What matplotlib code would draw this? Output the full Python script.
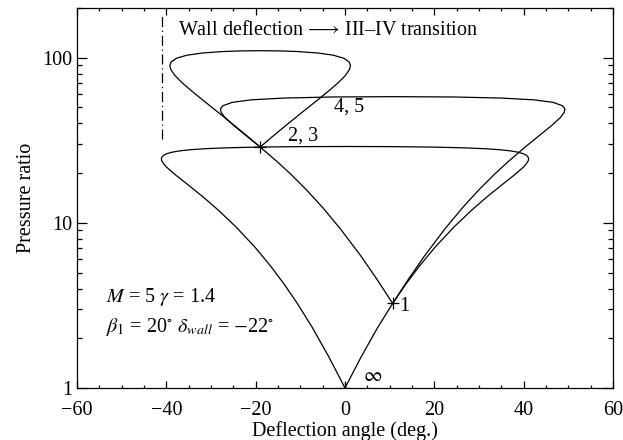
import matplotlib
matplotlib.use('Agg')
import matplotlib.pyplot as plt
import matplotlib.ticker as tkr

plt.rcParams['font.family'] = 'Liberation Serif'
plt.rcParams['mathtext.fontset'] = 'stix'
plt.rcParams['font.size'] = 14.5
plt.rcParams['axes.linewidth'] = 0.9

#-------|incident polar, M = 5 (from state 0)|-------
polarA_x = [0, 3.6, 7.34, 10.67, 13.72, 16.58, 20.17, 24.38, 28.28, 31.86, 35.08, 37.83, 39.92, 40.5,
            41.04, 41.1, 41.04, 40.68, 39.93, 38.73, 36.97, 34.54, 31.25, 27.0, 21.68, 18.6, 11.67, 7.9, 0,
            -7.9, -11.67, -18.6, -21.68, -27.0, -31.25, -34.54, -36.97, -38.73, -39.93, -40.68, -41.04,
            -41.1, -41.04, -40.5, -39.92, -37.83, -35.08, -31.86, -28.28, -24.38, -20.17, -16.58, -13.72,
            -10.67, -7.34, -3.6, 0]
polarA_p = [1, 1.54, 2.33, 3.25, 4.29, 5.44, 7.13, 9.43, 11.89, 14.42, 16.95, 19.41, 21.71, 22.57,
            23.79, 24.4, 24.91, 25.59, 26.21, 26.78, 27.29, 27.74, 28.12, 28.44, 28.68, 28.78, 28.92, 28.96, 29.0,
            28.96, 28.92, 28.78, 28.68, 28.44, 28.12, 27.74, 27.29, 26.78, 26.21, 25.59, 24.91,
            24.4, 23.79, 22.57, 21.71, 19.41, 16.95, 14.42, 11.89, 9.43, 7.13, 5.44, 4.29,
            3.25, 2.33, 1.54, 1]

#-------|reflected polar (from state 1)|-------
polarB_x = [10.67, 7.35, 3.52, -0.98, -5.01, -8.71, -12.15, -15.35, -19.0, -22.22, -24.9, -26.9, -27.76,
            -27.87, -27.32, -25.22, -20.98, -13.72, -2.9, 10.67, 24.24, 35.06, 42.32, 46.56, 48.66, 49.21,
            49.1, 48.24, 46.24, 43.56, 40.34, 36.69, 33.49, 30.05, 26.35, 22.32, 17.82, 13.99, 10.67]
polarB_p = [3.25, 4.47, 6.32, 9.16, 12.39, 15.93, 19.72, 23.69, 28.79, 33.89, 38.82, 43.46, 46.84,
            49.15, 51.25, 53.66, 55.57, 56.97, 57.84, 58.1, 57.84, 56.97, 55.57, 53.66, 51.25, 49.15,
            46.84, 43.46, 38.82, 33.89, 28.79, 23.69, 19.72, 15.93, 12.39, 9.16, 6.32, 4.47, 3.25]

#-------|polar from state 2|-------
polarC_x = [-19.0, -21.61, -24.72, -28.41, -31.6, -34.29, -36.46, -38.07, -39.0, -39.22, -38.94, -37.72,
            -35.4, -31.9, -27.29, -23.27, -19.0, -14.73, -10.71, -6.1, -2.6, -0.28, 0.94, 1.22, 1.0, 0.07,
            -1.54, -3.71, -6.4, -9.59, -13.28, -16.39, -19.0]
polarC_p = [28.79, 33.05, 38.81, 46.73, 54.74, 62.73, 70.51, 77.96, 84.9, 89.71, 94.14, 99.3,
            103.56, 106.81, 109.0, 109.95, 110.27, 109.95, 109.0, 106.81, 103.56, 99.3, 94.14, 89.71, 84.9, 77.96,
            70.51, 62.73, 54.74, 46.73, 38.81, 33.05, 28.79]

# states marked with a cross
state_x = [0, 10.67, -19.0]
state_p = [1, 3.25, 28.79]

wall_x = -41.0
wall_p = [32, 185]

fig = plt.figure(figsize=(6.23, 4.40), dpi=100)
ax = fig.add_axes([77/623, 1-388/440, 536/623, 380/440])

ax.plot(polarA_x, polarA_p, color='black', linewidth=0.9)
ax.plot(polarB_x, polarB_p, color='black', linewidth=0.9)
ax.plot(polarC_x, polarC_p, color='black', linewidth=0.9)
ax.plot(state_x, state_p, linestyle='none', marker='+', markersize=8, markeredgewidth=0.9, color='black')
ax.plot([wall_x, wall_x], wall_p, color='black', linewidth=0.9, dashes=(8, 3, 1, 3))

ax.set_yscale('log')
ax.set_xlim([-60, 60])
ax.set_ylim([1, 200])
ax.set_xticks([-60, -40, -20, 0, 20, 40, 60])
ax.set_xticklabels(['\u221260', '\u221240', '\u221220', '0', '20', '40', '60'])
ax.xaxis.set_minor_locator(tkr.MultipleLocator(5))
ax.set_yticks([1, 10, 100])
ax.set_yticklabels(['1', '10', '100'])
ax.yaxis.set_minor_locator(tkr.LogLocator(base=10, subs=range(2, 10)))
ax.yaxis.set_minor_formatter(tkr.NullFormatter())
ax.tick_params(axis='both', which='both', direction='in', top=True, right=True, width=0.9)
ax.tick_params(axis='x', which='major', length=5, pad=9)
ax.tick_params(axis='x', which='minor', length=2.5)
ax.tick_params(axis='y', which='major', length=7, pad=3)
ax.tick_params(axis='y', which='minor', length=3.5)

ax.set_xlabel('Deflection angle (deg.)', labelpad=1)
ax.set_ylabel('Pressure ratio', labelpad=5)

ax.text(-37.5, 147, 'Wall deflection$\\,\\longrightarrow\\,$III\u2013IV transition',
        ha='left', va='center')
ax.text(0.8, 50, '4, 5', ha='center', va='center')
ax.text(-9.3, 33.5, '2, 3', ha='center', va='center')
ax.text(13.2, 3.1, '1', ha='center', va='center')
ax.text(6.2, 1.17, r'$\infty$', ha='center', va='center')
ax.text(-53.5, 3.55, r'$M$ = 5 $\gamma$ = 1.4', ha='left', va='center')
ax.text(-53.5, 2.35, r'$\beta_1$ = 20$^{\circ}$ $\delta_{wall}$ = $-$22$^{\circ}$', ha='left', va='center')

plt.savefig('out.png', dpi=100)
